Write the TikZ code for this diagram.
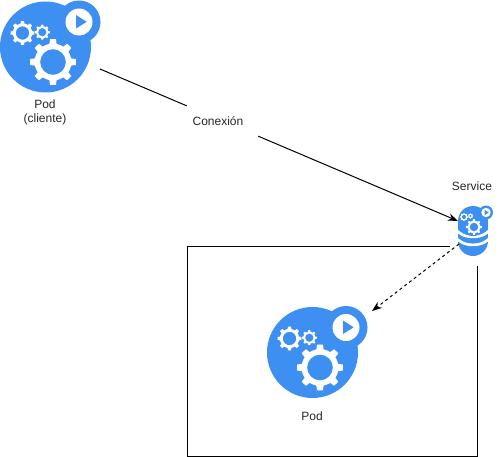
\documentclass[tikz,border=0pt]{standalone}
\usepackage{fontspec}
\setmainfont{Liberation Sans}
\usetikzlibrary{arrows.meta}
\definecolor{podblue}{HTML}{3D8FF2}
\tikzset{
  x=0.75pt,y=-0.75pt,
  lab/.style={font=\fontsize{9}{10.5}\selectfont,text=black!85,align=center,inner sep=0pt},
  conn/.style={black,line width=0.75pt,-{Stealth[length=7.5pt,width=5.5pt]}},
  plain/.style={black,line width=0.75pt},
  pics/cog/.style args={#1/#2}{code={
    \fill[white,even odd rule]
      plot[samples at={0,3.75,...,356.25},variable=\t]
        ({\t+#2}:{ifthenelse(cos(8*\t)>0,#1,#1*0.8)}) -- cycle
      (0,0) circle ({#1*0.56});
  }},
  pics/podicon/.style={code={
    \fill[podblue] (45.5,47) circle (45.5);
    \fill[podblue] (79,22) circle (21.5);
    \fill[white] (79,22) circle (13.5);
    \fill[podblue] (76,15) -- (86.7,21.8) -- (76,28.5) -- cycle;
    \pic at (53,62) {cog={23/0}};
    \pic at (22.5,33) {cog={12/0}};
    \pic at (42.3,32.2) {cog={7.5/0}};
  }}
}
\begin{document}
\begin{tikzpicture}
\useasboundingbox (0,0) rectangle (501,457);
\coordinate (boxtl) at (187.5,246.5);
\coordinate (boxbr) at (477.5,456.5);
\draw[plain] (boxtl) rectangle (boxbr);
\fill[white] (450,236) rectangle (495,266);
\pic at (0,0) {podicon};
\pic at (267,305.5) {podicon};
\node[lab] (podlabel) at (45,112) {Pod\\(cliente)};
\node[lab] (pod2label) at (312,416) {Pod};
\node[lab] (svclabel) at (472,186) {Service};
% service icon
\fill[podblue] (458,221) rectangle (488,241);
\fill[podblue] (473,241) circle (15);
\draw[white,line width=2pt] (455,227.5) .. controls (460,240) and (486,240) .. (491,227.5);
\draw[white,line width=2pt] (455,235.5) .. controls (460,248) and (486,248) .. (491,235.5);
\fill[podblue] (473,221) circle (15);
\fill[podblue] (486,212.5) circle (7);
\fill[white] (486,212.5) circle (4.7);
\fill[podblue] (484.5,209.8) -- (488.7,212.5) -- (484.5,215.2) -- cycle;
\pic at (474,227) {cog={7.8/0}};
\pic at (464,217) {cog={4/0}};
\pic at (470.5,216) {cog={2.6/0}};
\node[lab,minimum width=53.25pt,minimum height=24pt] (conexion) at (222.5,121) {\mbox{\kern-6.75pt Conexión}};
\coordinate (a) at (100,69);
\coordinate (b) at (458,221);
\coordinate (c) at (459,244);
\coordinate (d) at (372,311);
\draw[plain] (a) -- (conexion);
\draw[conn] (conexion) -- (b);
\draw[conn,dash pattern=on 2.25pt off 2.25pt] (c) -- (d);
\end{tikzpicture}
\end{document}
